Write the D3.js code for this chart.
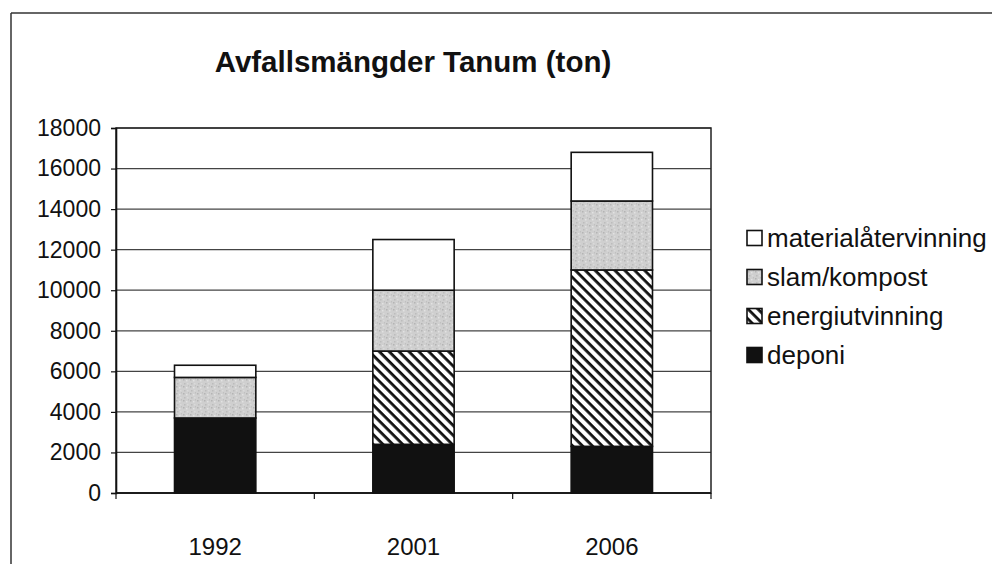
<!DOCTYPE html>
<html>
<head>
<meta charset="utf-8">
<script src="https://cdn.jsdelivr.net/npm/d3@7"></script>
<style>
  body { margin: 0; background: #fff; }
  svg text { font-family: "Liberation Sans", Arial, sans-serif; fill: #111; }
</style>
</head>
<body>
<svg id="chart" width="992" height="564"></svg>
<script>
// values (ton)
const years = ['1992', '2001', '2006'];
const deponi = [3700, 2400, 2300];
const energiutvinning = [0, 4600, 8700];
const slamKompost = [2000, 3000, 3400];
const materialatervinning = [600, 2500, 2400];
const yTicks = [0, 2000, 4000, 6000, 8000, 10000, 12000, 14000, 16000, 18000];

const seriesNames = ['deponi', 'energiutvinning', 'slam/kompost', 'materialåtervinning'];
const seriesValues = [deponi, energiutvinning, slamKompost, materialatervinning];
const fills = ['#111', 'url(#hatch)', 'url(#grain)', '#fff'];

const svg = d3.select('#chart');

// patterns for the scanned look
const defs = svg.append('defs');
const hatch = defs.append('pattern')
    .attr('id', 'hatch')
    .attr('patternUnits', 'userSpaceOnUse')
    .attr('width', 7).attr('height', 7)
    .attr('patternTransform', 'rotate(45)');
hatch.append('rect').attr('width', 7).attr('height', 7).attr('fill', '#fff');
hatch.append('rect').attr('width', 7).attr('height', 2.8).attr('fill', '#111');

const grain = defs.append('pattern')
    .attr('id', 'grain')
    .attr('patternUnits', 'userSpaceOnUse')
    .attr('width', 7).attr('height', 7);
grain.append('rect').attr('width', 7).attr('height', 7).attr('fill', '#cfcfcf');
[[1, 1, '#b4b4b4'], [4, 2, '#e2e2e2'], [2, 5, '#bcbcbc'], [5, 5, '#dadada'], [6, 0, '#c0c0c0']]
    .forEach(([px, py, c]) => grain.append('rect').attr('x', px).attr('y', py)
        .attr('width', 1.5).attr('height', 1.5).attr('fill', c));

// outer frame (only top and left visible in the scan)
svg.append('line').attr('x1', 11).attr('x2', 992).attr('y1', 13).attr('y2', 13)
    .attr('stroke', '#333').attr('stroke-width', 1.5);
svg.append('line').attr('x1', 11).attr('x2', 11).attr('y1', 13).attr('y2', 564)
    .attr('stroke', '#333').attr('stroke-width', 1.5);

svg.append('text')
    .attr('x', 413).attr('y', 72)
    .attr('text-anchor', 'middle')
    .style('font-size', '29.5px').style('font-weight', 'bold')
    .text('Avfallsmängder Tanum (ton)');

const plotLeft = 116, plotRight = 711, plotTop = 128, plotBottom = 493;

const x = d3.scaleBand()
    .domain(years)
    .range([plotLeft, plotRight])
    .paddingInner(0.59)
    .paddingOuter(0.295);

const y = d3.scaleLinear()
    .domain([0, 18000])
    .range([plotBottom, plotTop]);

// gridlines
svg.append('g')
    .selectAll('line')
    .data(yTicks)
    .enter().append('line')
    .attr('x1', plotLeft).attr('x2', plotRight)
    .attr('y1', d => y(d)).attr('y2', d => y(d))
    .attr('stroke', '#444').attr('stroke-width', 1.2);

// plot area border
svg.append('rect')
    .attr('x', plotLeft).attr('y', plotTop)
    .attr('width', plotRight - plotLeft).attr('height', plotBottom - plotTop)
    .attr('fill', 'none').attr('stroke', '#222').attr('stroke-width', 1.5);

// stacked bars
const rows = years.map((yr, i) => {
    const row = { year: yr };
    seriesNames.forEach((s, k) => { row[s] = seriesValues[k][i]; });
    return row;
});
const stacked = d3.stack().keys(seriesNames)(rows);

svg.append('g')
    .selectAll('g')
    .data(stacked)
    .enter().append('g')
    .attr('fill', (d, i) => fills[i])
    .selectAll('rect')
    .data(d => d.filter(p => p[1] > p[0]))
    .enter().append('rect')
    .attr('x', d => x(d.data.year))
    .attr('width', x.bandwidth())
    .attr('y', d => y(d[1]))
    .attr('height', d => y(d[0]) - y(d[1]))
    .attr('stroke', '#111').attr('stroke-width', 1.6);

// y axis
const yAxis = svg.append('g')
    .attr('transform', `translate(${plotLeft},0)`)
    .call(d3.axisLeft(y).tickValues(yTicks).tickSize(5).tickPadding(10).tickFormat(d3.format('d')));
yAxis.select('.domain').attr('stroke', '#111').attr('stroke-width', 1.6);
yAxis.selectAll('.tick line').attr('stroke', '#111').attr('stroke-width', 1.2);
yAxis.selectAll('.tick text').style('font-size', '23px').attr('fill', '#111')
    .style('font-family', '"Liberation Sans", Arial, sans-serif');

// x axis with ticks between categories
const step = x.step();
const xAxis = svg.append('g');
xAxis.append('line')
    .attr('x1', plotLeft).attr('x2', plotRight).attr('y1', plotBottom).attr('y2', plotBottom)
    .attr('stroke', '#111').attr('stroke-width', 1.6);
xAxis.selectAll('.sep')
    .data(d3.range(years.length + 1))
    .enter().append('line')
    .attr('class', 'sep')
    .attr('x1', i => plotLeft + i * step).attr('x2', i => plotLeft + i * step)
    .attr('y1', plotBottom).attr('y2', plotBottom + 6)
    .attr('stroke', '#111').attr('stroke-width', 1.2);
xAxis.selectAll('text')
    .data(years)
    .enter().append('text')
    .attr('x', d => x(d) + x.bandwidth() / 2)
    .attr('y', 555)
    .attr('text-anchor', 'middle')
    .style('font-size', '24px')
    .text(d => d);

// legend (reverse order, top = materialåtervinning)
const legend = svg.append('g');
const legendItems = seriesNames.map((s, i) => ({ name: s, fill: fills[i] })).reverse();
const item = legend.selectAll('g')
    .data(legendItems)
    .enter().append('g')
    .attr('transform', (d, i) => `translate(747,${238 + i * 39})`);
item.append('rect')
    .attr('x', 0).attr('y', -7.5)
    .attr('width', 15).attr('height', 15)
    .attr('fill', d => d.fill)
    .attr('stroke', '#111').attr('stroke-width', 1.6);
item.append('text')
    .attr('x', 20).attr('y', 9)
    .style('font-size', '26px')
    .text(d => d.name);
</script>
</body>
</html>
